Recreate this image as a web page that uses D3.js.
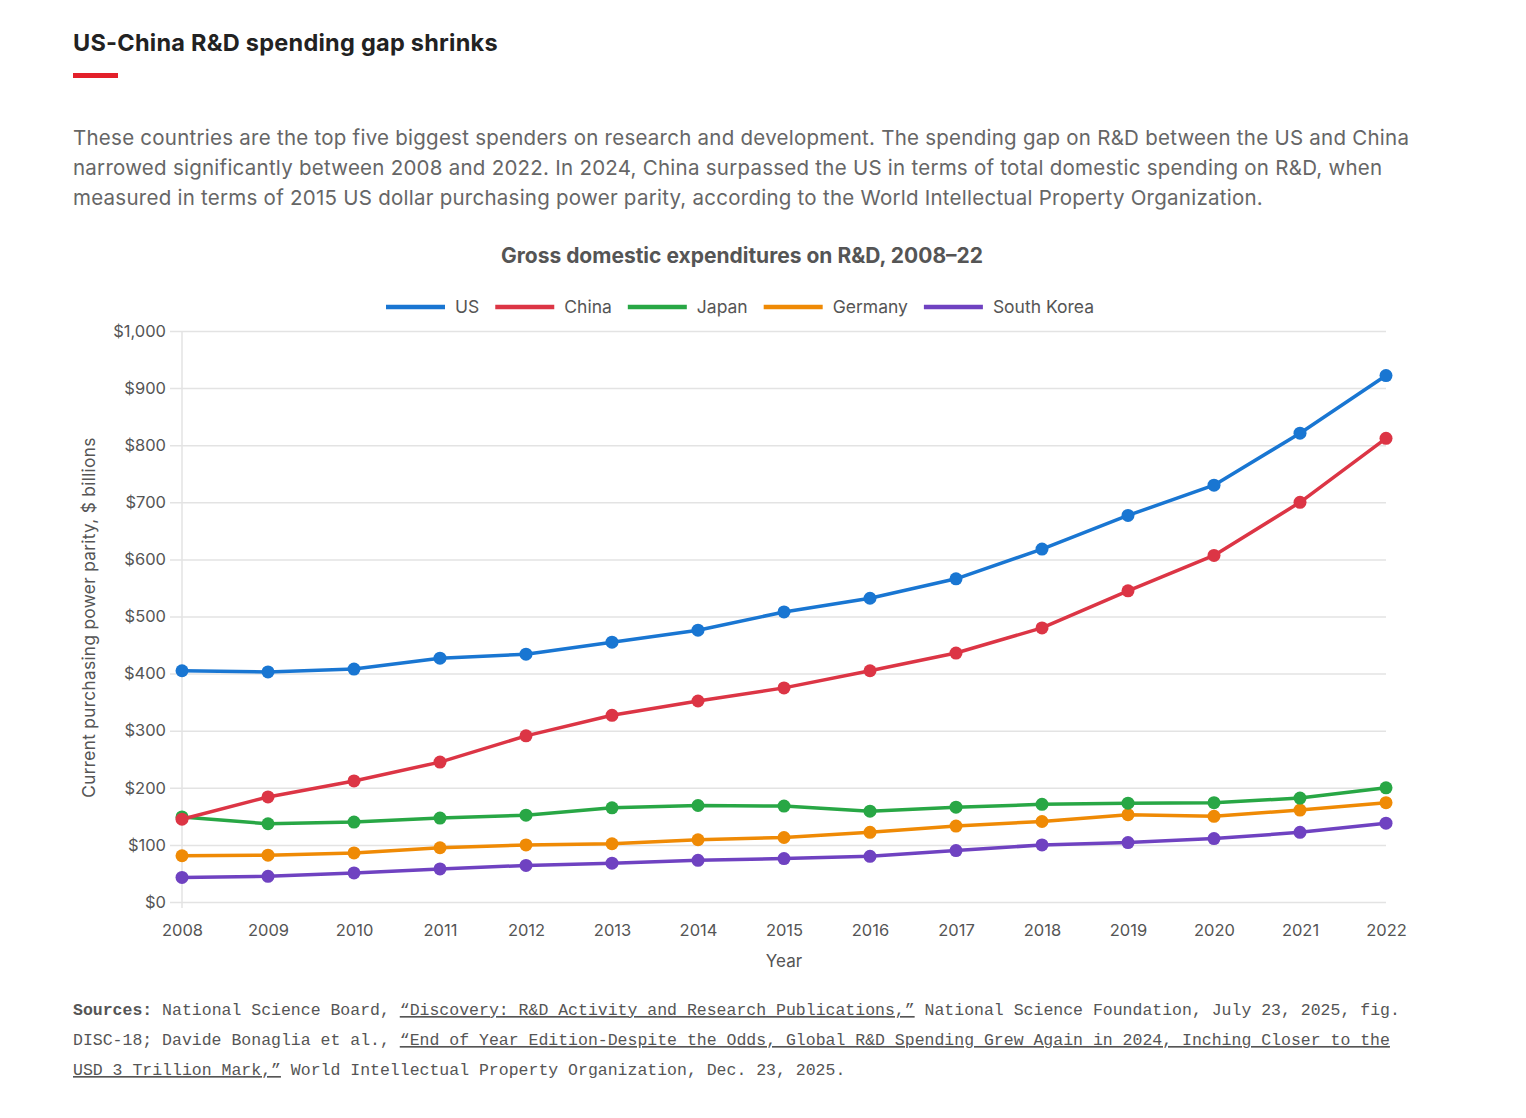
<!DOCTYPE html>
<html>
<head>
<meta charset="utf-8">
<script src="https://cdn.jsdelivr.net/npm/d3@7"></script>
<style>
  html, body { margin: 0; padding: 0; background: #fff; overflow: hidden; }
  svg { display: block; }
  svg text { font-family: Inter, "Noto Sans", sans-serif; }
  .mono { font-family: "Liberation Mono", "DejaVu Sans Mono", monospace !important; }
</style>
</head>
<body>
<div id="chart"></div>
<script>
// data
const years = [2008, 2009, 2010, 2011, 2012, 2013, 2014, 2015, 2016, 2017, 2018, 2019, 2020, 2021, 2022];
const usValues = [405, 403, 408, 427, 434, 455, 476, 508, 532, 566, 618, 677, 730, 821, 922];
const chinaValues = [145, 184, 212, 245, 291, 327, 352, 375, 405, 436, 480, 545, 607, 700, 812];
const japanValues = [149, 137, 140, 147, 152, 165, 169, 168, 159, 166, 171, 173, 174, 182, 200];
const germanyValues = [81, 82, 86, 95, 100, 102, 109, 113, 122, 133, 141, 153, 150, 161, 174];
const koreaValues = [43, 45, 51, 58, 64, 68, 73, 76, 80, 90, 100, 104, 111, 122, 138];
const seriesNames = ["US", "China", "Japan", "Germany", "South Korea"];
const seriesColors = ["#1976d2", "#dc3545", "#28a745", "#ef8a05", "#6f42c1"];
const yTicks = [0, 100, 200, 300, 400, 500, 600, 700, 800, 900, 1000];

const titleText = "US-China R&D spending gap shrinks";
const introLines = [
  "These countries are the top five biggest spenders on research and development. The spending gap on R&D between the US and China",
  "narrowed significantly between 2008 and 2022. In 2024, China surpassed the US in terms of total domestic spending on R&D, when",
  "measured in terms of 2015 US dollar purchasing power parity, according to the World Intellectual Property Organization."
];
const chartTitle = "Gross domestic expenditures on R&D, 2008–22";
const yTitle = "Current purchasing power parity, $ billions";
const xTitle = "Year";
// each source line: [text, style] pieces
const sourceLines = [
  [["Sources:", "b"], [" National Science Board, ", ""], ["“Discovery: R&D Activity and Research Publications,”", "u"], [" National Science Foundation, July 23, 2025, fig.", ""]],
  [["DISC-18; Davide Bonaglia et al., ", ""], ["“End of Year Edition-Despite the Odds, Global R&D Spending Grew Again in 2024, Inching Closer to the", "u"]],
  [["USD 3 Trillion Mark,”", "u"], [" World Intellectual Property Organization, Dec. 23, 2025.", ""]]
];

const allValues = [usValues, chinaValues, japanValues, germanyValues, koreaValues];
const series = seriesNames.map((name, i) => ({
  name: name,
  color: seriesColors[i],
  values: years.map((y, j) => ({ year: y, value: allValues[i][j] }))
}));

const width = 1526, height = 1118;
const margin = { left: 182, right: 140, top: 331, bottom: 216 };
const innerWidth = width - margin.left - margin.right;
const innerHeight = height - margin.top - margin.bottom;

const svg = d3.select("#chart").append("svg")
  .attr("width", width)
  .attr("height", height);

// header
svg.append("text")
  .attr("x", 73).attr("y", 51)
  .attr("font-size", 23.5).attr("font-weight", 700)
  .attr("letter-spacing", 0.25)
  .attr("fill", "#222")
  .text(titleText);

svg.append("rect")
  .attr("x", 73).attr("y", 73)
  .attr("width", 45).attr("height", 5)
  .attr("fill", "#e3202a");

svg.append("g").selectAll("text")
  .data(introLines)
  .join("text")
  .attr("x", 73)
  .attr("y", (d, i) => 145 + i * 30)
  .attr("font-size", 20.5)
  .attr("letter-spacing", 0.25)
  .attr("fill", "#666")
  .text(d => d);

svg.append("text")
  .attr("x", 742).attr("y", 263)
  .attr("text-anchor", "middle")
  .attr("font-size", 21).attr("font-weight", 700)
  .attr("fill", "#555")
  .text(chartTitle);

// legend
const legend = svg.append("g").attr("transform", "translate(386,307)");
let lx = 0;
series.forEach(s => {
  const g = legend.append("g").attr("transform", `translate(${lx},0)`);
  g.append("line")
    .attr("x1", 0).attr("x2", 59)
    .attr("stroke", s.color).attr("stroke-width", 4.5);
  const t = g.append("text")
    .attr("x", 69).attr("y", 6)
    .attr("font-size", 17.5)
    .attr("fill", "#555")
    .text(s.name);
  lx += 69 + t.node().getComputedTextLength() + 16;
});

const mainGroup = svg.append("g")
  .attr("transform", `translate(${margin.left},${margin.top})`);

const xScale = d3.scalePoint().domain(years).range([0, innerWidth]);
const yScale = d3.scaleLinear().domain([0, 1000]).range([innerHeight, 0]);

const yAxis = d3.axisLeft(yScale)
  .tickValues(yTicks)
  .tickSize(-(innerWidth + 12))
  .tickPadding(4)
  .tickFormat(d => "$" + d3.format(",")(d));

mainGroup.append("g")
  .attr("class", "y-axis")
  .attr("transform", "translate(-12,0)")
  .call(yAxis)
  .call(g => g.select(".domain").remove())
  .call(g => g.selectAll("line").attr("stroke", "#e3e3e3").attr("stroke-width", 1.5))
  .call(g => g.selectAll("text").attr("font-size", 16.5).attr("fill", "#555").attr("font-family", "Inter"));

mainGroup.append("line")
  .attr("x1", 0).attr("x2", 0)
  .attr("y1", 0).attr("y2", innerHeight + 6)
  .attr("stroke", "#e3e3e3").attr("stroke-width", 1.5);

const xAxis = d3.axisBottom(xScale).tickSize(0).tickPadding(22);
mainGroup.append("g")
  .attr("class", "x-axis")
  .attr("transform", `translate(0,${innerHeight})`)
  .call(xAxis)
  .call(g => g.select(".domain").remove())
  .call(g => g.selectAll("text").attr("font-size", 16.5).attr("fill", "#555").attr("font-family", "Inter"));

mainGroup.append("text")
  .attr("x", innerWidth / 2).attr("y", innerHeight + 65)
  .attr("text-anchor", "middle")
  .attr("font-size", 17).attr("fill", "#555")
  .text(xTitle);

mainGroup.append("text")
  .attr("transform", `translate(-87,${innerHeight / 2 + 1}) rotate(-90)`)
  .attr("text-anchor", "middle")
  .attr("font-size", 17.3).attr("letter-spacing", 0.3)
  .attr("fill", "#555")
  .text(yTitle);

const line = d3.line()
  .x(d => xScale(d.year))
  .y(d => yScale(d.value));

const seriesGroups = mainGroup.selectAll(".series")
  .data(series.slice().reverse())
  .join("g")
  .attr("class", "series");

seriesGroups.append("path")
  .attr("fill", "none")
  .attr("stroke", d => d.color)
  .attr("stroke-width", 3.5)
  .attr("stroke-linejoin", "round")
  .attr("d", d => line(d.values));

seriesGroups.selectAll("circle")
  .data(d => d.values.map(v => ({ ...v, color: d.color })))
  .join("circle")
  .attr("cx", d => xScale(d.year))
  .attr("cy", d => yScale(d.value))
  .attr("r", 6.5)
  .attr("fill", d => d.color);

// sources
const src = svg.append("g");
sourceLines.forEach((pieces, i) => {
  const t = src.append("text")
    .attr("class", "mono")
    .attr("x", 73).attr("y", 1015 + i * 30)
    .attr("font-size", 16.5)
    .attr("fill", "#555");
  pieces.forEach(p => {
    t.append("tspan")
      .attr("font-weight", p[1] === "b" ? 700 : 400)
      .attr("text-decoration", p[1] === "u" ? "underline" : null)
      .text(p[0]);
  });
});
</script>
</body>
</html>
